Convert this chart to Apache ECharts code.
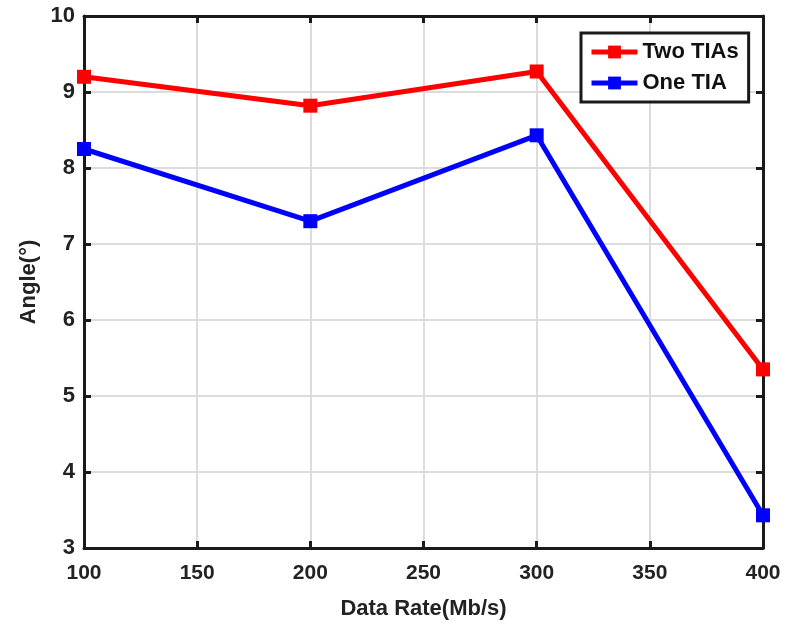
<!DOCTYPE html>
<html>
<head>
	<meta charset="utf-8">
	<title>Angle vs Data Rate</title>
	<script type="text/javascript" src="https://cdn.jsdelivr.net/npm/echarts@6/dist/echarts.min.js"></script>
	<style>
		html, body { margin: 0; padding: 0; background: #fff; }
		#chart { width: 785px; height: 626px; }
	</style>
</head>
<body>
<div id="chart"></div>
<script type="text/javascript">
	// data
	var dataRates = [100, 200, 300, 400];
	var twoTIAs = [9.2, 8.82, 9.27, 5.35];
	var oneTIA = [8.25, 7.3, 8.43, 3.43];
	var seriesNames = ['Two TIAs', 'One TIA'];
	var seriesColors = ['#ff0000', '#0000ff'];

	function pairs(xs, ys) {
		var out = [];
		for (var i = 0; i < xs.length; i++) out.push([xs[i], ys[i]]);
		return out;
	}

	var font = 'Liberation Sans, Arial, sans-serif';
	var axisLine = { show: true, lineStyle: { color: '#1a1a1a', width: 3 } };
	var inTick = { show: true, inside: true, length: 7, lineStyle: { color: '#1a1a1a', width: 3 } };

	var myChart = echarts.init(document.getElementById('chart'));
	var option = {
		backgroundColor: '#fff',
		animation: false,
		grid: { left: 84, right: 22, top: 16, bottom: 78 },
		legend: {
			orient: 'vertical',
			left: 581, top: 33,
			backgroundColor: '#fff',
			borderColor: '#1a1a1a', borderWidth: 3,
			padding: [8, 10, 8, 8],
			itemGap: 9,
			itemWidth: 46, itemHeight: 16,
			lineStyle: { width: 5 },
			textStyle: { fontFamily: font, fontWeight: 'bold', fontSize: 22, color: '#111' },
			data: seriesNames
		},
		xAxis: [{
			type: 'value', min: 100, max: 400, interval: 50,
			name: 'Data Rate(Mb/s)', nameLocation: 'middle', nameGap: 50,
			nameTextStyle: { fontFamily: font, fontWeight: 'bold', fontSize: 22, color: '#222' },
			axisLine: axisLine, axisTick: inTick,
			axisLabel: { fontFamily: font, fontWeight: 'bold', fontSize: 21, color: '#222', margin: 15 },
			splitLine: { show: true, lineStyle: { color: '#dcdcdc', width: 2 } }
		}, {
			type: 'value', min: 100, max: 400, interval: 50, position: 'top',
			axisLine: axisLine, axisTick: inTick, axisLabel: { show: false }, splitLine: { show: false }
		}],
		yAxis: [{
			type: 'value', min: 3, max: 10, interval: 1,
			name: 'Angle(°)', nameLocation: 'middle', nameGap: 42, nameRotate: 90,
			nameTextStyle: { fontFamily: font, fontWeight: 'bold', fontSize: 22, color: '#222' },
			axisLine: axisLine, axisTick: inTick,
			axisLabel: { fontFamily: font, fontWeight: 'bold', fontSize: 22, color: '#222', margin: 9 },
			splitLine: { show: true, lineStyle: { color: '#dcdcdc', width: 2 } }
		}, {
			type: 'value', min: 3, max: 10, interval: 1, position: 'right',
			axisLine: axisLine, axisTick: inTick, axisLabel: { show: false }, splitLine: { show: false }
		}],
		series: [{
			name: seriesNames[0], type: 'line',
			data: pairs(dataRates, twoTIAs),
			color: seriesColors[0],
			lineStyle: { width: 5 },
			symbol: 'rect', symbolSize: 14,
			z: 3
		}, {
			name: seriesNames[1], type: 'line',
			data: pairs(dataRates, oneTIA),
			color: seriesColors[1],
			lineStyle: { width: 5 },
			symbol: 'rect', symbolSize: 14,
			z: 3
		}]
	};
	myChart.setOption(option);
</script>
</body>
</html>
